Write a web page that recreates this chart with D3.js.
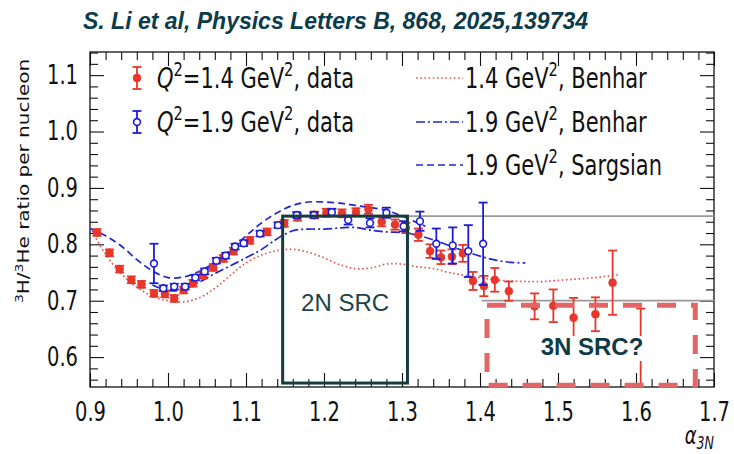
<!DOCTYPE html>
<html>
<head>
<meta charset="utf-8">
<script src="https://cdn.jsdelivr.net/npm/d3@7"></script>
<style>
  html, body { margin: 0; padding: 0; background: #fff; }
  svg { display: block; }
</style>
</head>
<body>
<svg id="chart" width="734" height="454"></svg>
<script>
// ---- Data: 3H/3He per-nucleon ratio vs alpha_3N ----
// Q^2 = 1.4 GeV^2 measurement
const redAlpha = [0.909, 0.925, 0.938, 0.953, 0.966, 0.982, 0.996, 1.008, 1.020, 1.032, 1.045, 1.058, 1.071, 1.084,
                  1.105, 1.127, 1.149, 1.166, 1.188, 1.203, 1.223, 1.241, 1.257, 1.274, 1.291, 1.305, 1.321, 1.336,
                  1.350, 1.364, 1.378, 1.391, 1.405, 1.419, 1.437, 1.470, 1.494, 1.520, 1.548, 1.570, 1.606];
const redRatio = [0.821, 0.785, 0.756, 0.737, 0.729, 0.713, 0.712, 0.704, 0.719, 0.731, 0.745, 0.759, 0.775, 0.788,
                  0.807, 0.822, 0.837, 0.848, 0.852, 0.856, 0.855, 0.857, 0.862, 0.840, 0.835, 0.829, 0.817, 0.788,
                  0.777, 0.778, 0.784, 0.735, 0.726, 0.737, 0.717, 0.690, 0.691, 0.670, 0.676, 0.732, 0.606];
const redErr   = [0.006, 0.006, 0.006, 0.006, 0.006, 0.006, 0.006, 0.006, 0.006, 0.006, 0.006, 0.006, 0.006, 0.006,
                  0.006, 0.006, 0.006, 0.006, 0.006, 0.007, 0.007, 0.007, 0.008, 0.008, 0.009, 0.009, 0.011, 0.012,
                  0.012, 0.013, 0.015, 0.016, 0.018, 0.021, 0.017, 0.023, 0.029, 0.035, 0.030, 0.057, 0.080];

// Q^2 = 1.9 GeV^2 measurement
const blueAlpha = [0.982, 0.994, 1.008, 1.022, 1.035, 1.047, 1.062, 1.074, 1.086, 1.097, 1.118, 1.141, 1.165, 1.187,
                   1.210, 1.231, 1.259, 1.280, 1.302, 1.323, 1.344, 1.365, 1.385, 1.404];
const blueRatio = [0.766, 0.722, 0.725, 0.725, 0.741, 0.752, 0.771, 0.780, 0.796, 0.802, 0.819, 0.834, 0.852, 0.852,
                   0.857, 0.843, 0.838, 0.856, 0.832, 0.841, 0.801, 0.798, 0.788, 0.801];
const blueErr   = [0.035, 0.005, 0.005, 0.005, 0.005, 0.005, 0.005, 0.005, 0.005, 0.005, 0.005, 0.005, 0.005, 0.005,
                   0.006, 0.008, 0.008, 0.009, 0.009, 0.017, 0.027, 0.032, 0.046, 0.073];

// Calculations
const benhar14Alpha = [0.90, 0.92, 0.94, 0.96, 0.98, 1.00, 1.02, 1.04, 1.06, 1.08, 1.10, 1.12, 1.14, 1.16, 1.18, 1.20,
                       1.22, 1.24, 1.26, 1.28, 1.30, 1.32, 1.34, 1.36, 1.38, 1.40, 1.42, 1.44, 1.46, 1.48, 1.50, 1.52,
                       1.54, 1.56, 1.58];
const benhar14Ratio = [0.830, 0.782, 0.748, 0.724, 0.708, 0.700, 0.698, 0.705, 0.722, 0.745, 0.767, 0.781, 0.789, 0.791, 0.786, 0.776,
                       0.764, 0.757, 0.758, 0.765, 0.765, 0.760, 0.757, 0.750, 0.745, 0.741, 0.737, 0.735, 0.734, 0.734, 0.736, 0.738,
                       0.740, 0.743, 0.746];
const benhar19Alpha = [0.98, 1.00, 1.02, 1.04, 1.06, 1.08, 1.10, 1.12, 1.14, 1.16, 1.18, 1.20, 1.22, 1.24, 1.26, 1.28,
                       1.30, 1.32, 1.34, 1.36, 1.38, 1.40, 1.42, 1.44, 1.458];
const benhar19Ratio = [0.728, 0.718, 0.720, 0.733, 0.748, 0.762, 0.776, 0.791, 0.810, 0.824, 0.827, 0.827, 0.829, 0.830, 0.825, 0.822,
                       0.821, 0.816, 0.808, 0.798, 0.788, 0.779, 0.772, 0.768, 0.767];
const sargsianAlpha = [0.90, 0.92, 0.94, 0.96, 0.98, 1.00, 1.02, 1.04, 1.06, 1.08, 1.10, 1.12, 1.14, 1.16, 1.18, 1.20,
                       1.22, 1.24, 1.26, 1.28, 1.30, 1.32, 1.33];
const sargsianRatio = [0.828, 0.815, 0.797, 0.773, 0.753, 0.741, 0.742, 0.752, 0.768, 0.790, 0.815, 0.838, 0.856, 0.869, 0.875, 0.875,
                       0.873, 0.869, 0.865, 0.860, 0.850, 0.838, 0.832];

// Axis ticks
const xTicks = [0.9, 1.0, 1.1, 1.2, 1.3, 1.4, 1.5, 1.6, 1.7];
const xTickLabels = ["0.9", "1.0", "1.1", "1.2", "1.3", "1.4", "1.5", "1.6", "1.7"];
const yTicks = [0.6, 0.7, 0.8, 0.9, 1.0, 1.1];
const yTickLabels = ["0.6", "0.7", "0.8", "0.9", "1.0", "1.1"];

// Reference levels and highlighted regions
const levelLines = [{ y: 0.85, x0: 1.307, x1: 1.7 }, { y: 0.70, x0: 1.402, x1: 1.7 }];
const region2N = { x0: 1.147, x1: 1.307, y0: 0.554, y1: 0.850, label: "2N SRC" };
const region3N = { x0: 1.409, x1: 1.676, y0: 0.550, y1: 0.692, label: "3N SRC?" };

// ---- Layout ----
const W = 734, H = 454;
const plot = { left: 90, right: 714, top: 52, bottom: 387 };
const SX = 0.75;                         // horizontal compression of figure text
const FONT = "'DejaVu Sans', sans-serif";
const RED = "#e8362b", BLUE = "#1c1cd6", RED_LINE = "#e05a50", BLUE_LINE = "#2424d4";

const svg = d3.select("#chart");
svg.append("rect").attr("width", W).attr("height", H).attr("fill", "#fff");

const x = d3.scaleLinear().domain([0.9, 1.7]).range([plot.left, plot.right]);
const y = d3.scaleLinear().domain([0.547, 1.141]).range([plot.bottom, plot.top]);

svg.append("clipPath").attr("id", "plotclip")
  .append("rect").attr("x", plot.left).attr("y", plot.top)
  .attr("width", plot.right - plot.left).attr("height", plot.bottom - plot.top);

// helper: text built from parts with sup/sub/italic runs
function richText(g, parts, fs) {
  const t = g.append("text").attr("font-family", FONT).attr("font-size", fs).attr("fill", "#111");
  let shift = 0;
  parts.forEach(p => {
    const [str, kind] = p;
    const ts = t.append("tspan").text(str);
    let target = 0;
    if (kind && kind.includes("sup")) { ts.attr("font-size", fs * 0.7); target = -0.42 * fs; }
    if (kind && kind.includes("sub")) { ts.attr("font-size", fs * 0.7); target = 0.22 * fs; }
    if (kind && kind.includes("it")) ts.attr("font-style", "italic");
    ts.attr("dy", target - shift);
    shift = target;
  });
  return t;
}

// ---- Title ----
svg.append("text")
  .attr("x", 83).attr("y", 29)
  .attr("font-family", "'Liberation Sans', Arial, sans-serif")
  .attr("font-weight", "bold").attr("font-style", "italic")
  .attr("font-size", 23).attr("fill", "#0c3c4c")
  .text("S. Li et al, Physics Letters B, 868, 2025,139734");

// ---- Axes (ticks pointing inward on all four sides) ----
const minorX = d3.range(0.9, 1.7001, 0.02).filter(v => Math.abs(v * 10 - Math.round(v * 10)) > 1e-6);
const minorY = d3.range(0.56, 1.1401, 0.02).filter(v => Math.abs(v * 10 - Math.round(v * 10)) > 1e-6);
const MAJ = 14, MIN = 8;

function styleAxis(g) {
  g.select(".domain").remove();
  g.selectAll("line").attr("stroke", "#111").attr("stroke-width", 1.1);
}

svg.append("g").attr("transform", `translate(0,${plot.bottom})`)
  .call(d3.axisBottom(x).tickValues(xTicks).tickSize(-MAJ).tickPadding(16).tickFormat((d, i) => xTickLabels[i]))
  .call(styleAxis)
  .call(g => g.selectAll("text").attr("font-family", FONT).attr("font-size", 26).attr("fill", "#111")
    .attr("transform", `scale(${SX},1)`));
svg.append("g").attr("transform", `translate(0,${plot.bottom})`)
  .call(d3.axisBottom(x).tickValues(minorX).tickSize(-MIN).tickFormat(""))
  .call(styleAxis);
svg.append("g").attr("transform", `translate(0,${plot.top})`)
  .call(d3.axisTop(x).tickValues(xTicks).tickSize(-MAJ).tickFormat(""))
  .call(styleAxis);
svg.append("g").attr("transform", `translate(0,${plot.top})`)
  .call(d3.axisTop(x).tickValues(minorX).tickSize(-MIN).tickFormat(""))
  .call(styleAxis);

svg.append("g").attr("transform", `translate(${plot.left},0)`)
  .call(d3.axisLeft(y).tickValues(yTicks).tickSize(-MAJ).tickFormat((d, i) => yTickLabels[i]))
  .call(styleAxis)
  .call(g => g.selectAll("text").attr("font-family", FONT).attr("font-size", 26).attr("fill", "#111")
    .attr("x", -12 / SX).attr("transform", `scale(${SX},1)`));
svg.append("g").attr("transform", `translate(${plot.left},0)`)
  .call(d3.axisLeft(y).tickValues(minorY).tickSize(-MIN).tickFormat(""))
  .call(styleAxis);
svg.append("g").attr("transform", `translate(${plot.right},0)`)
  .call(d3.axisRight(y).tickValues(yTicks).tickSize(-MAJ).tickFormat(""))
  .call(styleAxis);
svg.append("g").attr("transform", `translate(${plot.right},0)`)
  .call(d3.axisRight(y).tickValues(minorY).tickSize(-MIN).tickFormat(""))
  .call(styleAxis);

// frame
svg.append("rect").attr("x", plot.left).attr("y", plot.top)
  .attr("width", plot.right - plot.left).attr("height", plot.bottom - plot.top)
  .attr("fill", "none").attr("stroke", "#111").attr("stroke-width", 1.3);

// axis titles
const yl = svg.append("g").attr("transform", `translate(29,181) scale(${SX},1) rotate(-90)`);
richText(yl, [["3", "sup"], ["H/"], ["3", "sup"], ["He ratio per nucleon"]], 20).attr("text-anchor", "middle");
const xl = svg.append("g").attr("transform", `translate(714,444) scale(${SX},1)`);
richText(xl, [["α", "it"], ["3N", "sub it"]], 24).attr("text-anchor", "end");

// ---- Plot content ----
const body = svg.append("g").attr("clip-path", "url(#plotclip)");

body.selectAll("line.level").data(levelLines).join("line")
  .attr("x1", d => x(d.x0)).attr("x2", d => x(d.x1))
  .attr("y1", d => y(d.y)).attr("y2", d => y(d.y))
  .attr("stroke", "#9a9a9a").attr("stroke-width", 1.7);

const line = d3.line().x(d => x(d[0])).y(d => y(d[1])).curve(d3.curveCatmullRom);
const curves = [
  { a: benhar14Alpha, r: benhar14Ratio, color: RED_LINE, dash: "1.6,2.6", w: 1.7 },
  { a: benhar19Alpha, r: benhar19Ratio, color: BLUE_LINE, dash: "9,3,2,3", w: 1.7 },
  { a: sargsianAlpha, r: sargsianRatio, color: BLUE_LINE, dash: "7,4", w: 1.7 }
];
curves.forEach(c => {
  body.append("path").datum(c.a.map((v, i) => [v, c.r[i]]))
    .attr("d", line).attr("fill", "none")
    .attr("stroke", c.color).attr("stroke-width", c.w).attr("stroke-dasharray", c.dash);
});

function errorSeries(alpha, ratio, err, color, open) {
  const pts = alpha.map((a, i) => ({ a, r: ratio[i], e: err[i] }));
  const g = body.append("g");
  const cap = 4.5;
  g.selectAll("line.bar").data(pts).join("line")
    .attr("x1", d => x(d.a)).attr("x2", d => x(d.a))
    .attr("y1", d => y(d.r - d.e)).attr("y2", d => y(d.r + d.e))
    .attr("stroke", color).attr("stroke-width", 1.8);
  ["+", "-"].forEach(s => {
    g.selectAll("line.cap" + (s === "+" ? "u" : "d")).data(pts).join("line")
      .attr("x1", d => x(d.a) - cap).attr("x2", d => x(d.a) + cap)
      .attr("y1", d => y(s === "+" ? d.r + d.e : d.r - d.e))
      .attr("y2", d => y(s === "+" ? d.r + d.e : d.r - d.e))
      .attr("stroke", color).attr("stroke-width", 1.8);
  });
  g.selectAll("circle").data(pts).join("circle")
    .attr("cx", d => x(d.a)).attr("cy", d => y(d.r))
    .attr("r", open ? 3.4 : 3.9)
    .attr("fill", open ? "#fff" : color)
    .attr("stroke", color).attr("stroke-width", open ? 1.6 : 0.8);
}
errorSeries(redAlpha, redRatio, redErr, RED, false);
errorSeries(blueAlpha, blueRatio, blueErr, BLUE, true);

// ---- Legend ----
const legend = svg.append("g");
const rows = [78, 122, 165];
function legendMarker(cx, cy, color, open) {
  legend.append("line").attr("x1", cx).attr("x2", cx).attr("y1", cy - 11).attr("y2", cy + 11)
    .attr("stroke", color).attr("stroke-width", 1.8);
  [cy - 11, cy + 11].forEach(v => legend.append("line").attr("x1", cx - 4.5).attr("x2", cx + 4.5)
    .attr("y1", v).attr("y2", v).attr("stroke", color).attr("stroke-width", 1.8));
  legend.append("circle").attr("cx", cx).attr("cy", cy).attr("r", open ? 3.4 : 3.9)
    .attr("fill", open ? "#fff" : color).attr("stroke", color).attr("stroke-width", open ? 1.6 : 0.8);
}
function legendText(tx, ty, parts) {
  const g = legend.append("g").attr("transform", `translate(${tx},${ty}) scale(${SX},1)`);
  richText(g, parts, 28).attr("dy", "0.36em");
}
legendMarker(137, rows[0], RED, false);
legendText(157, rows[0] + 10, [["Q", "it"], ["2", "sup"], ["=1.4 GeV"], ["2", "sup"], [", data"]]);
legendMarker(137, rows[1], BLUE, true);
legendText(157, rows[1] + 10, [["Q", "it"], ["2", "sup"], ["=1.9 GeV"], ["2", "sup"], [", data"]]);

const legendLines = [
  { c: curves[0], label: "1.4", name: "Benhar" },
  { c: curves[1], label: "1.9", name: "Benhar" },
  { c: curves[2], label: "1.9", name: "Sargsian" }
];
legendLines.forEach((d, i) => {
  legend.append("line").attr("x1", 416).attr("x2", 463).attr("y1", rows[i]).attr("y2", rows[i])
    .attr("stroke", d.c.color).attr("stroke-width", 1.7).attr("stroke-dasharray", d.c.dash);
  legendText(465, rows[i] + 10, [[d.label + " GeV"], ["2", "sup"], [", " + d.name]]);
});

// ---- Highlighted regions ----
const ann = svg.append("g");
ann.append("rect")
  .attr("x", x(region2N.x0)).attr("y", y(region2N.y1))
  .attr("width", x(region2N.x1) - x(region2N.x0)).attr("height", y(region2N.y0) - y(region2N.y1))
  .attr("fill", "none").attr("stroke", "#183c3e").attr("stroke-width", 3);
ann.append("text")
  .attr("x", (x(region2N.x0) + x(region2N.x1)) / 2).attr("y", 311)
  .attr("text-anchor", "middle")
  .attr("font-family", "'Liberation Sans', Arial, sans-serif").attr("font-size", 24)
  .attr("fill", "#1d4548").text(region2N.label);

ann.append("rect")
  .attr("x", x(region3N.x0)).attr("y", y(region3N.y1))
  .attr("width", x(region3N.x1) - x(region3N.x0)).attr("height", y(region3N.y0) - y(region3N.y1))
  .attr("fill", "none").attr("stroke", "#e36565").attr("stroke-width", 5)
  .attr("stroke-dasharray", "19,15");
const t3 = ann.append("text")
  .attr("x", 592).attr("y", 355)
  .attr("text-anchor", "middle")
  .attr("font-family", "'Liberation Sans', Arial, sans-serif").attr("font-size", 24)
  .attr("font-weight", "bold").attr("fill", "#0f3b47").text(region3N.label);
const bb = t3.node().getBBox();
ann.insert("rect", () => t3.node())
  .attr("x", bb.x - 3).attr("y", bb.y + 3).attr("width", bb.width + 6).attr("height", bb.height - 2)
  .attr("fill", "#fff");
</script>
</body>
</html>
